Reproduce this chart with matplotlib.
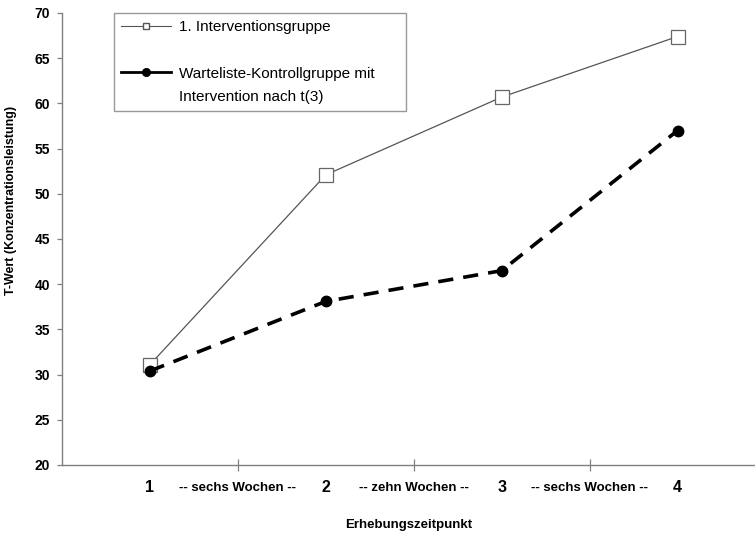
import matplotlib.pyplot as plt
from matplotlib.lines import Line2D

plt.rcParams['font.family'] = ['Liberation Sans', 'DejaVu Sans']

# Erhebungszeitpunkte und Mittelwerte (T-Werte)
zeitpunkte = [1, 2, 3, 4]
interventionsgruppe = [31.1, 52.1, 60.7, 67.4]
warteliste = [30.4, 38.1, 41.5, 57.0]
abstand_pos = [1.5, 2.5, 3.5]
abstand_labels = ['-- sechs Wochen --', '-- zehn Wochen --', '-- sechs Wochen --']
label_1 = '1. Interventionsgruppe'
label_2 = 'Warteliste-Kontrollgruppe mit\nIntervention nach t(3)'

fig = plt.figure(figsize=(7.55, 5.35), dpi=100)
ax = fig.add_axes([62/755, 1 - 465/535, 1 - 62/755, (465 - 13)/535])

ax.plot(zeitpunkte, interventionsgruppe, color='#555555', lw=0.9,
        marker='s', markersize=10, markerfacecolor='white',
        markeredgecolor='#666666', markeredgewidth=0.9, zorder=3)
ax.plot(zeitpunkte, warteliste, color='black', lw=2.6,
        dashes=(4.2, 2.8), marker='o', markersize=7.5,
        markerfacecolor='black', markeredgecolor='black', zorder=4)

ax.set_xlim(0.5, 4.44)
ax.set_ylim(20, 70)
ax.set_yticks(range(20, 71, 5))

ax.set_xticks(zeitpunkte)
ax.set_xticklabels([str(z) for z in zeitpunkte], fontsize=11.5, fontweight='bold')
ax.set_xticks(abstand_pos, minor=True)
ax.set_xticklabels(abstand_labels, minor=True, fontsize=9.5, fontweight='bold')
ax.tick_params(axis='x', which='major', length=0, pad=11)
ax.tick_params(axis='x', which='minor', direction='inout', length=8,
               width=0.9, color='#808080', pad=8.5)
ax.tick_params(axis='y', direction='out', length=3.6, width=0.9,
               color='#808080', labelsize=10, pad=5)
for lab in ax.get_yticklabels():
    lab.set_fontweight('bold')

for side in ['top', 'right']:
    ax.spines[side].set_visible(False)
for side in ['left', 'bottom']:
    ax.spines[side].set_color('#808080')
    ax.spines[side].set_linewidth(1.0)

ax.set_ylabel('T-Wert (Konzentrationsleistung)', fontsize=9, fontweight='bold')
ax.yaxis.set_label_coords(-0.065, 0.586)
ax.set_xlabel('Erhebungszeitpunkt', fontsize=9.5, fontweight='bold')
ax.xaxis.set_label_coords(0.5, -0.12)

# Legende: zweite Beschriftung zweizeilig, Marker an der ersten Zeile
zeilen_2 = label_2.split('\n')
leer = Line2D([], [], lw=0)
handles = [
    Line2D([], [], color='#555555', lw=0.8, marker='s', markersize=4.5,
           markerfacecolor='white', markeredgecolor='#555555'),
    leer,
    Line2D([], [], color='black', lw=2.0, marker='o', markersize=5.5,
           markerfacecolor='black'),
    leer,
]
labels = [label_1, ' ', zeilen_2[0], zeilen_2[1]]
leg = fig.legend(handles, labels, loc='upper left',
                 bbox_to_anchor=(114/755, 1 - 110/535, 292/755, 97/535),
                 mode='expand', borderaxespad=0,
                 fontsize=11, frameon=True, fancybox=False,
                 edgecolor='#808080', handlelength=3.3, handletextpad=0.52,
                 labelspacing=0.61, borderpad=0.46)
leg.get_frame().set_linewidth(1.0)

fig.savefig('out.png', dpi=100)
